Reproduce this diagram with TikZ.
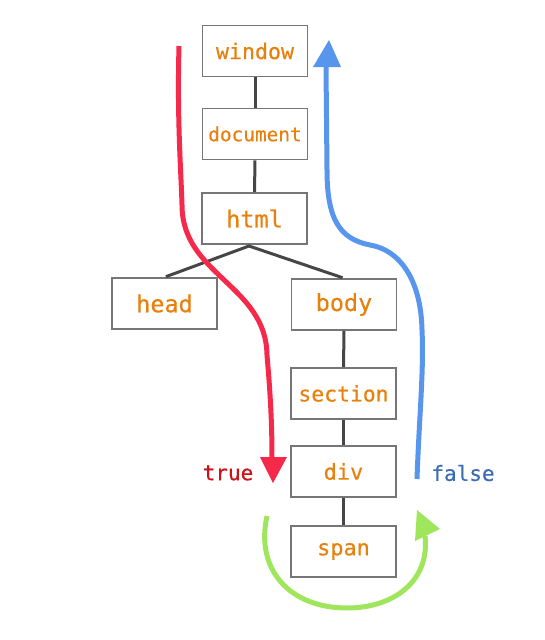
\documentclass[tikz,border=0pt]{standalone}
\usepackage{fontspec}
\newfontfamily\dommono[FakeBold=0.35]{DejaVu Sans Mono}
\definecolor{txtor}{RGB}{232,128,14}
\definecolor{boxgray}{RGB}{118,118,118}
\definecolor{lnk}{RGB}{70,70,70}
\definecolor{redl}{RGB}{245,42,75}
\definecolor{bluel}{RGB}{88,150,238}
\definecolor{greenl}{RGB}{160,230,92}
\definecolor{truec}{RGB}{204,18,24}
\definecolor{falsec}{RGB}{60,108,180}
\tikzset{
  dombox/.style={draw=boxgray, line width=1.6pt, fill=white, text=txtor,
    minimum width=105pt, minimum height=51pt, inner sep=0pt, font=\dommono},
  link/.style={draw=lnk, line width=3pt},
  flow/.style={line width=5pt, line cap=butt},
  lbl/.style={font=\dommono\fontsize{21}{25}\selectfont, inner sep=0pt}
}
\newcommand{\fsz}[1]{\fontsize{#1}{#1}\selectfont}
\begin{document}
\begin{tikzpicture}[x=1pt,y=-1pt]
\useasboundingbox (0,0) rectangle (544,640);
\node[dombox] (window) at (255,51) {\fsz{21.6}window};
\node[dombox] (document) at (255,134) {\fsz{19.4}document};
\node[dombox] (html) at (254.5,218.5) {\fsz{23.5}html};
\node[dombox] (head) at (164.5,303.5) {\fsz{23.5}head};
\node[dombox] (body) at (344,304.5) {\fsz{23.5}body};
\node[dombox] (section) at (343.5,393.5) {\fsz{21.4}section};
\node[dombox] (div) at (343.5,471.5) {\fsz{21.9}div};
\node[dombox] (span) at (343.5,551.5) {\fsz{21.9}span};
\coordinate (j) at (249,246);
\draw[link] (window) -- (document);
\draw[link] (document) -- (html);
\draw[link, shorten <=1.5pt, shorten >=1.5pt] (head.north) -- (j) -- (body.north);
\draw[link] (body) -- (section);
\draw[link] (section) -- (div);
\draw[link] (div) -- (span);
% red flow
\coordinate (rs) at (179,46);
\coordinate (re) at (272,459);
\draw[flow, redl] (rs) .. controls (177,120) and (181,170) .. (182,205)
  .. controls (182,275) and (266,285) .. (267,355)
  .. controls (270,390) and (272,420) .. (re);
\fill[redl] (273,483) -- (260,457) -- (287,457) -- cycle;
% blue flow
\coordinate (bs) at (417,479);
\coordinate (be) at (326,66);
\draw[flow, bluel] (bs) .. controls (419,420) and (424,370) .. (422,330)
  .. controls (421,280) and (400,250) .. (370,245)
  .. controls (340,239) and (327,220) .. (327,170) -- (be);
\fill[bluel] (329,40) -- (313,67) -- (341,67) -- cycle;
% green flow
\coordinate (gs) at (267,516);
\coordinate (ge) at (425,536);
\draw[flow, greenl] (gs) .. controls (255,570) and (290,608) .. (347,608)
  .. controls (395,608) and (430,580) .. (ge);
\fill[greenl] (417,510) -- (440,529) -- (415,541) -- cycle;
% labels
\node[lbl, text=truec] (true) at (228,473) {true};
\node[lbl, text=falsec] (false) at (463,473) {false};
\end{tikzpicture}
\end{document}
